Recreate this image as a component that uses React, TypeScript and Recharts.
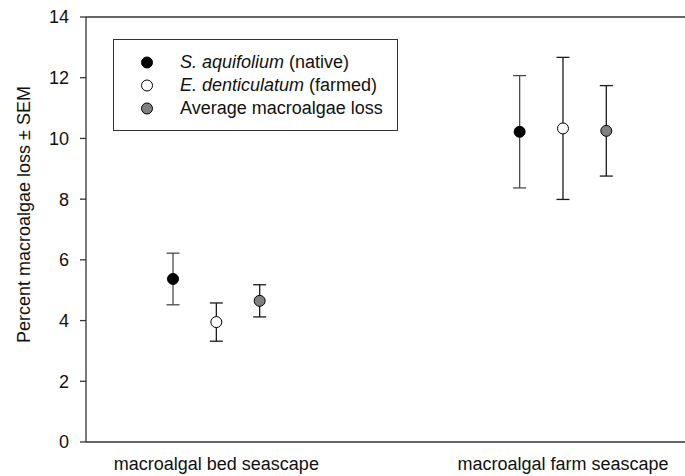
import { ScatterChart, Scatter, XAxis, YAxis, ErrorBar, ReferenceLine, Legend } from 'recharts';

const FONT = '"Liberation Sans", Arial, sans-serif';

// seascape categories (x positions 1 and 2)
const categories = ['macroalgal bed seascape', 'macroalgal farm seascape'];
const yTicks = [0, 2, 4, 6, 8, 10, 12, 14];

// percent macroalgae loss, mean and SEM per seascape
const nativeMean = [5.37, 10.22];
const nativeSem = [0.85, 1.85];
const farmedMean = [3.95, 10.33];
const farmedSem = [0.63, 2.34];
const averageMean = [4.65, 10.25];
const averageSem = [0.53, 1.49];

// horizontal dodge of each series within a category
const DODGE = 0.125;

const buildRows = (means: number[], sems: number[], shift: number) =>
  categories.map((_, i) => ({ x: i + 1 + shift, y: means[i], err: sems[i] }));

const series = [
  { key: 'native', fill: '#000000', bar: '#4a4a4a', data: buildRows(nativeMean, nativeSem, -DODGE) },
  { key: 'farmed', fill: '#ffffff', bar: '#1a1a1a', data: buildRows(farmedMean, farmedSem, 0) },
  { key: 'average', fill: '#808080', bar: '#1a1a1a', data: buildRows(averageMean, averageSem, DODGE) },
];

const dot = (fill: string) => (props: any) => (
  <circle cx={props.cx} cy={props.cy} r={5.5} fill={fill} stroke="#000" strokeWidth={1} />
);

const LegendBox = () => {
  const rows = [
    { fill: '#000000', italic: 'S. aquifolium', rest: ' (native)' },
    { fill: '#ffffff', italic: 'E. denticulatum', rest: ' (farmed)' },
    { fill: '#808080', italic: '', rest: 'Average macroalgae loss' },
  ];
  return (
    <div
      style={{
        width: 285,
        height: 92,
        boxSizing: 'border-box',
        border: '1px solid #333',
        background: '#fff',
        paddingTop: 11,
        fontFamily: FONT,
        fontSize: 18,
        color: '#111',
      }}
    >
      {rows.map((r) => (
        <div key={r.rest} style={{ display: 'flex', alignItems: 'center', height: 23 }}>
          <svg width={66} height={23} style={{ flexShrink: 0 }}>
            <circle cx={33} cy={11.5} r={5.5} fill={r.fill} stroke="#000" strokeWidth={1} />
          </svg>
          <span style={{ whiteSpace: 'nowrap' }}>
            {r.italic && <i>{r.italic}</i>}
            {r.rest}
          </span>
        </div>
      ))}
    </div>
  );
};

const YLabel = (props: any) => {
  const vb = props.viewBox;
  const cx = vb.x + 18;
  const cy = vb.y + vb.height / 2 - 15;
  return (
    <text
      x={cx}
      y={cy}
      transform={`rotate(-90, ${cx}, ${cy})`}
      textAnchor="middle"
      dominantBaseline="central"
      fontFamily={FONT}
      fontSize={18}
      fill="#111"
    >
      Percent macroalgae loss ± SEM
    </text>
  );
};

export default function App() {
  return (
    <div style={{ position: 'absolute', left: 0, top: 0, width: 685, height: 476, background: '#fff' }}>
      <ScatterChart width={685} height={476} margin={{ top: 17, right: 0, bottom: 0, left: 6 }}>
        <XAxis
          type="number"
          dataKey="x"
          domain={[0.624, 2.352]}
          allowDataOverflow
          ticks={[1, 2]}
          tickFormatter={(v: number) => categories[v - 1]}
          height={34}
          tickSize={0}
          tickMargin={15}
          axisLine={{ stroke: '#333', strokeWidth: 1.3 }}
          tick={{ fontFamily: FONT, fontSize: 18, fill: '#111' }}
        />
        <YAxis
          type="number"
          dataKey="y"
          domain={[0, 14]}
          ticks={yTicks}
          width={80}
          tickSize={6}
          tickMargin={11}
          axisLine={{ stroke: '#333', strokeWidth: 1.3 }}
          tickLine={{ stroke: '#333', strokeWidth: 1.3 }}
          tick={{ fontFamily: FONT, fontSize: 18, fill: '#111' }}
          label={<YLabel />}
        />
        <ReferenceLine y={14} stroke="#333" strokeWidth={1.3} />
        <Legend
          layout="vertical"
          align="center"
          verticalAlign="middle"
          wrapperStyle={{ left: 113, top: 39, width: 285, height: 92 }}
          content={<LegendBox />}
        />
        {series.map((s) => (
          <Scatter key={s.key} name={s.key} data={s.data} shape={dot(s.fill)} isAnimationActive={false}>
            <ErrorBar dataKey="err" direction="y" width={6.5} stroke={s.bar} strokeWidth={1.3} />
          </Scatter>
        ))}
      </ScatterChart>
    </div>
  );
}
